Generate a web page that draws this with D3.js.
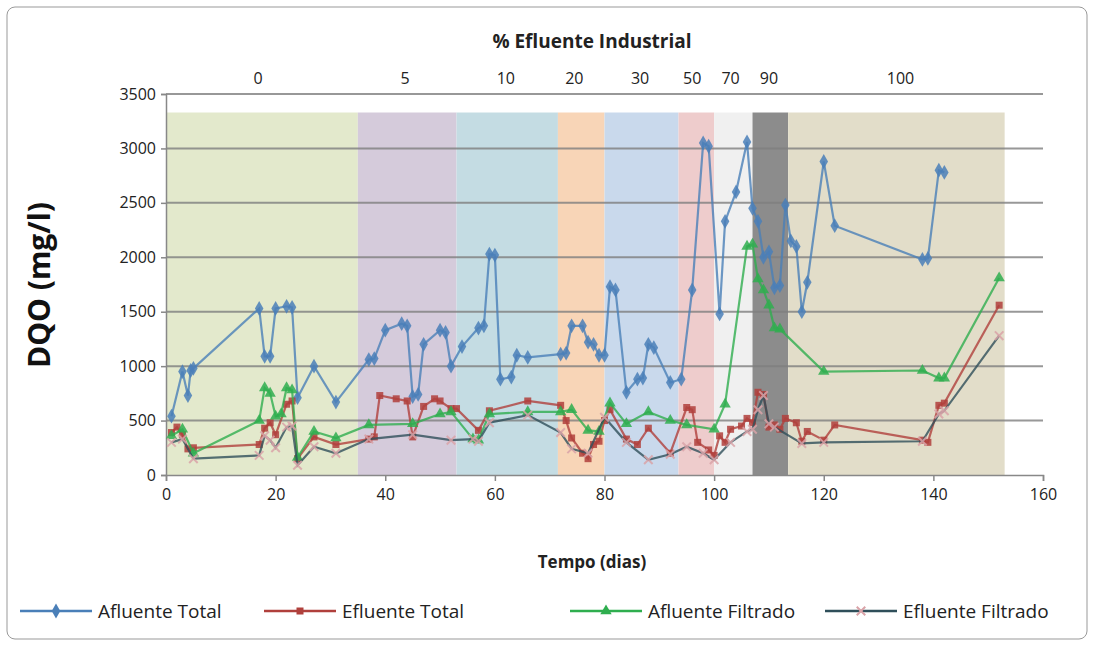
<!DOCTYPE html><html><head><meta charset="utf-8">
<script src="https://cdn.jsdelivr.net/npm/d3@7"></script>
<style>body{margin:0;background:#fff;font-family:"Open Sans",sans-serif}</style></head><body>
<svg id="c" width="1094" height="646" font-family="Open Sans, sans-serif"></svg>
<script>
const afluenteTotal=[[1,540],[3,950],[4,730],[4.5,960],[5,980],[17,1530],[18,1090],[19,1090],[20,1530],[22,1550],[23,1540],[24,710],[27,1000],[31,670],[37,1060],[38,1070],[40,1330],[43,1390],[44,1370],[45,720],[46,740],[47,1200],[50,1330],[51,1310],[52,1000],[54,1180],[57,1350],[58,1370],[59,2030],[60,2020],[61,880],[63,900],[64,1100],[66,1080],[72,1110],[73,1120],[74,1370],[76,1370],[77,1220],[78,1200],[79,1100],[80,1100],[81,1730],[82,1700],[84,760],[86,880],[87,890],[88,1200],[89,1170],[92,850],[94,880],[96,1700],[98,3050],[99,3020],[101,1480],[102,2330],[104,2600],[106,3060],[107,2450],[108,2330],[109,2000],[110,2050],[111,1720],[112,1740],[113,2480],[114,2150],[115,2100],[116,1500],[117,1770],[120,2880],[122,2290],[138,1980],[139,1990],[141,2800],[142,2780]];
const efluenteTotal=[[1,390],[2,440],[3,370],[4,240],[5,250],[17,280],[18,430],[19,480],[20,370],[22,650],[23,680],[24,150],[27,350],[31,280],[37,330],[38,350],[39,730],[42,700],[44,680],[45,350],[47,630],[49,700],[50,680],[52,610],[53,610],[57,410],[59,590],[66,680],[72,640],[73,500],[74,340],[76,200],[77,150],[78,280],[79,310],[80,500],[81,600],[84,330],[86,280],[88,430],[92,200],[95,620],[96,600],[97,300],[99,230],[100,180],[101,360],[102,300],[103,420],[105,450],[106,520],[107,480],[108,760],[109,740],[110,440],[111,460],[112,420],[113,520],[115,480],[116,310],[117,400],[120,320],[122,460],[138,320],[139,300],[141,640],[142,660],[152,1560]];
const afluenteFiltrado=[[1,360],[3,420],[5,200],[17,500],[18,800],[19,750],[20,540],[21,560],[22,800],[23,780],[24,160],[27,400],[31,340],[37,460],[45,470],[50,560],[52,580],[56,330],[57,320],[59,560],[66,580],[72,580],[74,600],[77,410],[79,400],[81,660],[84,470],[88,580],[92,500],[95,460],[100,420],[102,650],[106,2100],[107,2120],[108,1800],[109,1700],[110,1560],[111,1350],[112,1340],[120,950],[138,960],[141,890],[142,890],[152,1810]];
const efluenteFiltrado=[[1,300],[3,330],[5,150],[17,180],[18,360],[19,320],[20,250],[22,440],[23,450],[24,90],[27,260],[31,200],[37,330],[45,370],[52,320],[56,330],[57,310],[59,480],[66,550],[72,390],[74,240],[77,200],[80,530],[84,300],[88,140],[92,190],[95,260],[98,200],[100,140],[103,300],[106,400],[107,420],[108,600],[109,730],[110,470],[111,440],[116,290],[120,300],[138,310],[141,560],[142,590],[152,1280]];
const bands=[[0,35,"0"],[35,53,"5"],[53,71.5,"10"],[71.5,80,"20"],[80,93.5,"30"],[93.5,100,"50"],[100,107,"70"],[107,113.5,"90"],[113.5,153,"100"]];
const bandColors=["#e3e9cc","#d5cbdb","#c4dce3","#f8d5b7","#c9d9ec","#eecccc","#f0f0f0","#8c8c8c","#e2ddc9"];
const bandLabelX=[16.8,43.6,62,74.5,86.5,96,103,110,134];
const yTicks=[0,500,1000,1500,2000,2500,3000,3500];
const xTicks=[0,20,40,60,80,100,120,140,160];
const seriesNames=["Afluente Total","Efluente Total","Afluente Filtrado","Efluente Filtrado"];
const seriesColors=["#4a7fb8","#b0403c","#2fae4f","#2f4f5a"];
const seriesMarkers=["diamond","square","triangle","x"];
const series=[afluenteTotal,efluenteTotal,afluenteFiltrado,efluenteFiltrado];

const svg=d3.select("#c");
svg.append("rect").attr("x",7).attr("y",7).attr("width",1080).attr("height",632).attr("rx",8).attr("fill","#fff").attr("stroke","#999");
const x=d3.scaleLinear().domain([0,160]).range([166,1043]);
const y=d3.scaleLinear().domain([0,3500]).range([475,94]);
svg.selectAll(".band").data(bands).join("rect").attr("x",d=>x(d[0])).attr("width",d=>x(d[1])-x(d[0]))
 .attr("y",y(3330)).attr("height",y(0)-y(3330)).attr("fill",(d,i)=>bandColors[i]);
svg.selectAll(".grid").data(yTicks.slice(1)).join("line").attr("x1",166).attr("x2",1043).attr("y1",d=>y(d)).attr("y2",d=>y(d)).attr("stroke","#7f7f7f").attr("stroke-width",2).attr("opacity",0.8);
const ax=svg.append("g").attr("transform","translate(0,475)").call(d3.axisBottom(x).tickValues(xTicks).tickSize(6).tickFormat(d3.format("d")));
const ay=svg.append("g").attr("transform","translate(166,0)").call(d3.axisLeft(y).tickValues(yTicks).tickSize(5).tickFormat(d3.format("d")));
[ax,ay].forEach(a=>{a.selectAll("path,line").attr("stroke","#888").attr("stroke-width",1.5);a.selectAll("text").attr("font-size",16).attr("fill","#222").attr("font-family","Open Sans, sans-serif");});
ay.selectAll("text").attr("x",-10);
ax.selectAll("text").attr("dy","1em");
const line=d3.line().x(d=>x(d[0])).y(d=>y(d[1]));
function marker(g,type,c,size){
 if(type==="diamond")g.append("path").attr("d",d3.symbol(d3.symbolDiamond,size*9)()).attr("fill",c);
 else if(type==="square")g.append("rect").attr("x",-size/2).attr("y",-size/2).attr("width",size).attr("height",size).attr("fill",c);
 else if(type==="triangle")g.append("path").attr("d",d3.symbol(d3.symbolTriangle,size*8)()).attr("fill",c);
 else g.append("path").attr("d",d3.symbol(d3.symbolX,size*7)()).attr("fill","none").attr("stroke","#d9a3a8").attr("stroke-width",2);
}
series.forEach((s,i)=>{
 svg.append("path").datum(s).attr("d",line).attr("fill","none").attr("stroke",seriesColors[i]).attr("stroke-width",2.2).attr("opacity",0.8);
 s.forEach(p=>{const g=svg.append("g").attr("transform",`translate(${x(p[0])},${y(p[1])})`).attr("opacity",0.85);marker(g,seriesMarkers[i],seriesColors[i],7);});
});
svg.append("text").attr("x",592).attr("y",48).attr("text-anchor","middle").attr("font-size",19).attr("font-weight","bold").attr("fill","#222").text("% Efluente Industrial");
svg.selectAll(".bl").data(bands).join("text").attr("x",(d,i)=>x(bandLabelX[i])).attr("y",84).attr("text-anchor","middle").attr("font-size",16).attr("fill","#222").text(d=>d[2]);
svg.append("text").attr("x",592).attr("y",568).attr("text-anchor","middle").attr("font-size",17).attr("font-weight","bold").attr("fill","#222").text("Tempo (dias)");
svg.append("text").attr("transform","translate(50,285) rotate(-90)").attr("text-anchor","middle").attr("font-size",30).attr("font-weight","bold").attr("fill","#111").text("DQO (mg/l)");
const lx=[20,264,570,825];
seriesNames.forEach((n,i)=>{
 svg.append("line").attr("x1",lx[i]).attr("x2",lx[i]+72).attr("y1",611).attr("y2",611).attr("stroke",seriesColors[i]).attr("stroke-width",2.5);
 const g=svg.append("g").attr("transform",`translate(${lx[i]+36},611)`);marker(g,seriesMarkers[i],seriesColors[i],7);
 svg.append("text").attr("x",lx[i]+78).attr("y",618).attr("font-size",19).attr("fill","#222").text(n);
});
</script></body></html>
